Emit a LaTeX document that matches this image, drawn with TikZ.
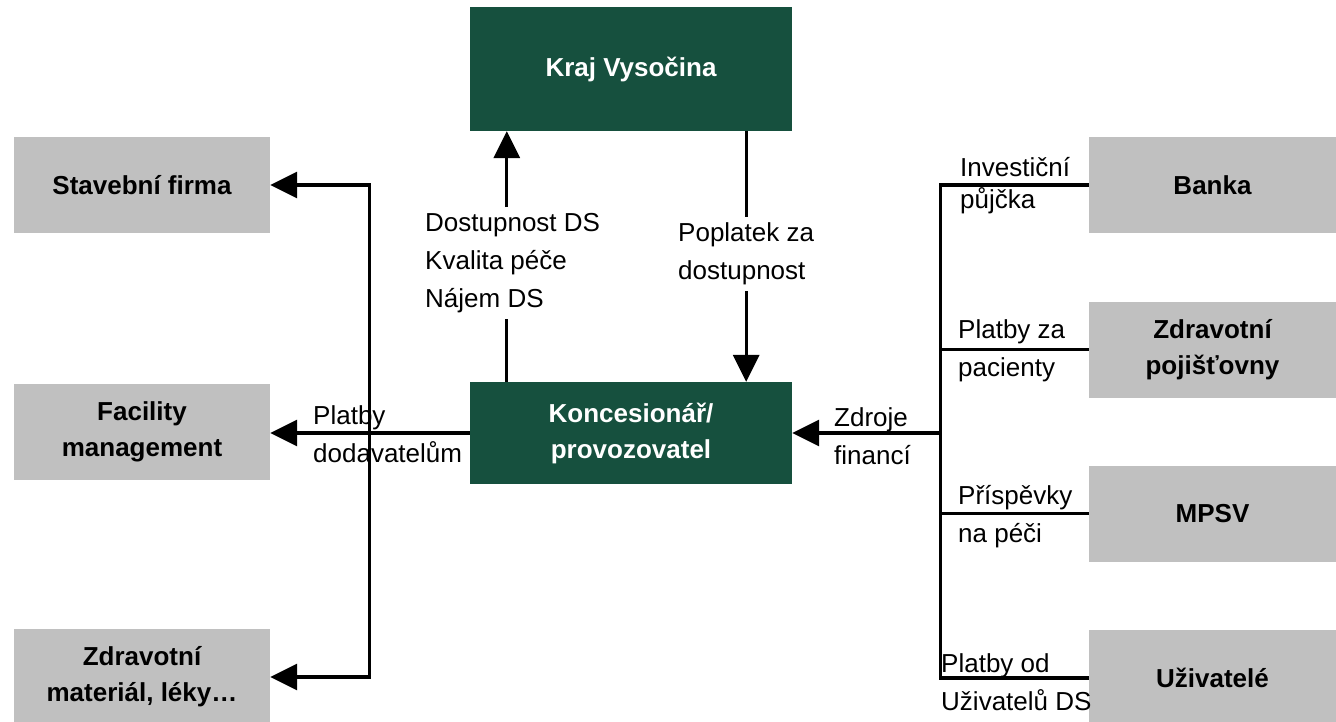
\documentclass[tikz,border=0pt]{standalone}
\usepackage{fontspec}
\setmainfont{Liberation Sans}
\usetikzlibrary{arrows.meta}
\definecolor{krajGreen}{RGB}{22,80,62}
\definecolor{partnerGray}{RGB}{192,192,192}
\tikzstyle{sheet} = [x = 1pt, y = -1pt]
\tikzstyle{greenBox} = [fill=krajGreen, text=white, font=\fontsize{26}{36}\selectfont\bfseries, align=center, minimum width=322, inner sep=0]
\tikzstyle{grayBox} = [fill=partnerGray, font=\fontsize{26}{36}\selectfont\bfseries, align=center, minimum height=96, inner sep=0]
\tikzstyle{flowLine} = [line width=3.2pt]
\tikzstyle{flowArrow} = [flowLine, -{Triangle[length=27pt, width=26pt]}]
\tikzstyle{flowBothArrow} = [flowLine, {Triangle[length=27pt, width=26pt]}-{Triangle[length=27pt, width=26pt]}]
\tikzstyle{flowText} = [font=\fontsize{26}{38}\selectfont, align=left, inner xsep=0, inner ysep=6pt, anchor=west]
\newcommand{\leftBox}[3]{\node [grayBox, minimum width=256] (#1) at (142,#2) {#3};}
\newcommand{\rightBox}[3]{\node [grayBox, minimum width=247] (#1) at (1212.5,#2) {#3};}
\newcommand{\rightLabel}[4]{\node [flowText] (#1) at (#2,#3) {#4};}
\begin{document}
\begin{tikzpicture}[sheet]
  \useasboundingbox (0,0) rectangle (1336,721);
  \node [greenBox, minimum height=124] (kraj) at (631,69) {Kraj Vysočina};
  \node [greenBox, minimum height=102] (kons) at (631,433) {Koncesionář/\\provozovatel};
  \leftBox{stav}{185}{Stavební firma}
  \leftBox{facil}{432}{Facility\\management}
  \leftBox{zdrMat}{677}{Zdravotní\\materiál, léky…}
  \rightBox{banka}{185}{Banka}
  \rightBox{pojist}{349.5}{Zdravotní\\pojišťovny}
  \rightBox{mpsv}{513.5}{MPSV}
  \rightBox{uziv}{678}{Uživatelé}
  \node [flowText] (dostup) at (425,263) {Dostupnost DS\\Kvalita péče\\Nájem DS};
  \node [flowText] (poplat) at (678,254) {Poplatek za\\dostupnost};
  \node [flowText] (dodav) at (313,434) {Platby\\dodavatelům};
  \node [flowText] (zdroje) at (834,436) {Zdroje\\financí};
  \node [flowText, font=\fontsize{26}{32}\selectfont] (pujcka) at (960,186) {Investiční\\půjčka};
  \rightLabel{pacienty}{958}{351}{Platby za\\pacienty}
  \rightLabel{prispevky}{958}{517}{Příspěvky\\na péči}
  \rightLabel{odUziv}{941}{682}{Platby od\\Uživatelů DS}
  \coordinate (upFoot) at ([xshift=37]kons.north west);
  \coordinate (downFoot) at ([xshift=-46]kons.north east);
  \coordinate (leftTrunk) at ([xshift=-100]kons.west);
  \coordinate (rightTrunk) at ([xshift=148]kons.east);
  \draw [flowLine] (upFoot) -- (upFoot |- dostup.south);
  \draw [flowArrow] (upFoot |- dostup.north) -- (upFoot |- kraj.south);
  \draw [flowLine] (downFoot |- kraj.south) -- (downFoot |- poplat.north);
  \draw [flowArrow] (downFoot |- poplat.south) -- (downFoot);
  \draw [flowArrow] (kons.west) -- (kons.west -| facil.east);
  \draw [flowBothArrow] (stav.east) -- (leftTrunk |- stav) -- (leftTrunk |- zdrMat) -- (zdrMat.east);
  \draw [flowArrow] (rightTrunk) -- (kons.east);
  \draw [flowLine] (banka.west) -- (rightTrunk |- banka) -- (rightTrunk |- uziv) -- (uziv.west);
  \draw [flowLine] (rightTrunk |- pojist) -- (pojist.west);
  \draw [flowLine] (rightTrunk |- mpsv) -- (mpsv.west);
\end{tikzpicture}
\end{document}
